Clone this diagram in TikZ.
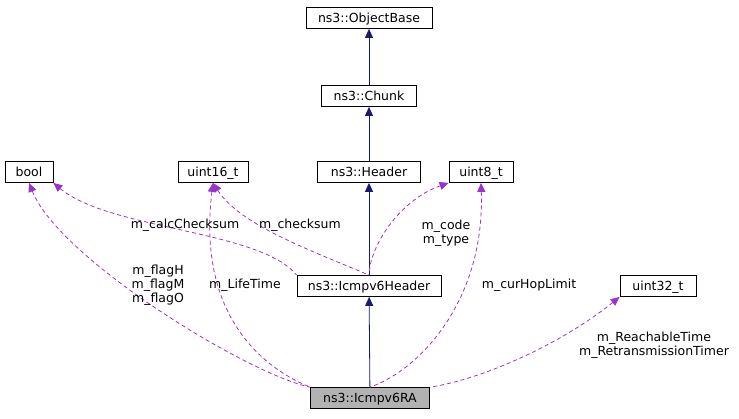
\documentclass[tikz,border=0pt]{standalone}
\usepackage{fontspec}
\setmainfont{DejaVu Sans}
\usetikzlibrary{arrows.meta}
\definecolor{edgeblue}{RGB}{25,25,112}
\definecolor{memberpurple}{RGB}{154,50,205}
\begin{document}
\begin{tikzpicture}[x=1pt,y=-1pt,font=\fontsize{12.5}{14}\selectfont,line width=0.8pt]
	
	\tikzset{cls/.style = {draw,rectangle,inner sep=0pt,minimum height=21pt,text depth=0pt}}
	\tikzset{inherit/.style = {draw=edgeblue,{Triangle[length=9pt,width=8pt,fill=edgeblue]}-}}
	\tikzset{member/.style = {draw=memberpurple,dash pattern=on 4pt off 3pt,{Triangle[length=9pt,width=8pt,fill=memberpurple]}-}}
	\tikzset{lbl/.style = {align=center,inner sep=1pt}}
	
	\useasboundingbox (0,0) rectangle (739,419);
	
	\node[cls,minimum width=126pt] (objbase) at (369,18) {ns3::ObjectBase};
	\node[cls,minimum width=95pt] (chunk) at (369,96) {ns3::Chunk};
	\node[cls,minimum width=103pt] (header) at (369,172) {ns3::Header};
	\node[cls,minimum width=144pt] (icmphdr) at (369,286) {ns3::Icmpv6Header};
	\node[cls,minimum width=119pt,fill=gray!60] (icmpra) at (370,398) {ns3::Icmpv6RA};
	\node[cls,minimum width=48pt] (bool) at (29,172) {bool};
	\node[cls,minimum width=70pt] (uintsixteen) at (213,172) {uint16\_t};
	\node[cls,minimum width=64pt] (uinteight) at (481,172) {uint8\_t};
	\node[cls,minimum width=76pt] (uintthirtytwo) at (658,286) {uint32\_t};
	
	\draw[inherit] (objbase) -- (chunk);
	\draw[inherit] (chunk) -- (header);
	\draw[inherit] (header) -- (icmphdr);
	\draw[inherit] (icmphdr) -- (icmpra);
	
	\draw[member] (bool.south) .. controls (60,260) and (250,375) .. (icmpra.north west);
	\draw[member] (bool.south east) .. controls (110,230) and (260,230) .. (icmphdr.north west);
	\draw[member] (uintsixteen.south) .. controls (240,225) and (310,250) .. (icmphdr.north);
	\draw[member] (uintsixteen.south) .. controls (195,330) and (280,375) .. (icmpra.north west);
	\draw[member] (uinteight.south west) .. controls (400,200) and (370,245) .. (icmphdr.north);
	\draw[member] (uinteight.south) .. controls (485,300) and (420,370) .. (icmpra.north);
	\draw[member] (uintthirtytwo.south west) .. controls (560,345) and (480,380) .. (icmpra.north east);
	
	\node[lbl] (lflags) at (158,285) {m\_flagH\\m\_flagM\\m\_flagO};
	\node[lbl] (lcalc) at (185,225) {m\_calcChecksum};
	\node[lbl] (lcheck) at (300,225) {m\_checksum};
	\node[lbl] (llife) at (245,285) {m\_LifeTime};
	\node[lbl] (lcode) at (446,233) {m\_code\\m\_type};
	\node[lbl] (lhop) at (529,285) {m\_curHopLimit};
	\node[lbl] (lreach) at (654,345) {m\_ReachableTime\\m\_RetransmissionTimer};
\end{tikzpicture}
\end{document}
